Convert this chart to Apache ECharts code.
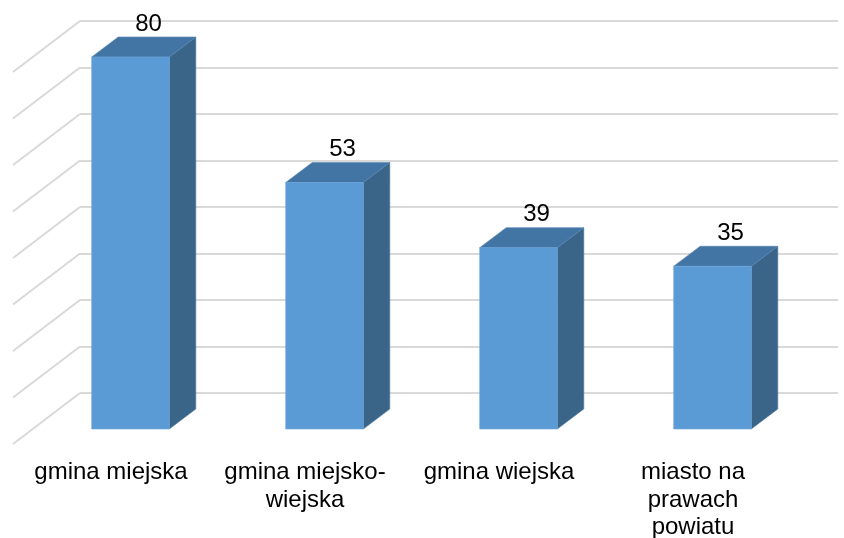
<!DOCTYPE html>
<html>
<head>
<meta charset="utf-8">
<script src="https://cdn.jsdelivr.net/npm/echarts@6/dist/echarts.min.js"></script>
<style>html,body{margin:0;padding:0;background:#fff}#c{width:844px;height:538px}</style>
</head>
<body>
<div id="c"></div>
<script>
const categories = ['gmina miejska', 'gmina miejsko-\nwiejska', 'gmina wiejska', 'miasto na\nprawach\npowiatu'];
const values = [80, 53, 39, 35];
const gridTicks = [0, 10, 20, 30, 40, 50, 60, 70, 80];

const FONT = '"Liberation Sans", Arial, sans-serif';
const DEPTH_X = 26.5, DEPTH_Y = -20;   // bar depth (pixels)
const WALL_X = -67, WALL_Y = 51;       // side wall diagonal (pixels)

const chart = echarts.init(document.getElementById('c'));
chart.setOption({
  animation: false,
  backgroundColor: '#fff',
  grid: [
    { left: 80, right: 6, top: 21, bottom: 145, outerBoundsMode: 'none' },
    { left: 33.5, right: 34.5, top: 57, bottom: 109, outerBoundsMode: 'none' },
    { left: 14, right: 54, top: 57, bottom: 95, outerBoundsMode: 'none' }
  ],
  xAxis: [
    { gridIndex: 0, type: 'value', min: 0, max: 1, show: false },
    { gridIndex: 1, type: 'category', data: categories, show: false },
    { gridIndex: 2, type: 'category', data: categories,
      axisLine: { show: false }, axisTick: { show: false }, splitLine: { show: false },
      axisLabel: { interval: 0, margin: 16, color: '#000', fontFamily: FONT, fontSize: 24, lineHeight: 27.5, align: 'center' } }
  ],
  yAxis: [
    { gridIndex: 0, type: 'value', min: 0, max: 80, interval: 10,
      axisLine: { show: false }, axisTick: { show: false }, axisLabel: { show: false },
      splitLine: { show: true, lineStyle: { color: '#d9d9d9', width: 2 } } },
    { gridIndex: 1, type: 'value', min: 0, max: 80, show: false, splitLine: { show: false } },
    { gridIndex: 2, type: 'value', min: 0, max: 80, show: false, splitLine: { show: false } }
  ],
  series: [
    {
      type: 'custom', xAxisIndex: 0, yAxisIndex: 0, z: 1, silent: true,
      data: gridTicks.map(t => [0, t]),
      renderItem: function (params, api) {
        const p = api.coord([0, api.value(1)]);
        return { type: 'line', shape: { x1: p[0], y1: p[1], x2: p[0] + WALL_X, y2: p[1] + WALL_Y },
                 style: { stroke: '#d9d9d9', lineWidth: 2 } };
      }
    },
    {
      type: 'custom', xAxisIndex: 1, yAxisIndex: 1, z: 5, silent: true,
      data: values.map((v, i) => [i, v]),
      renderItem: function (params, api) {
        const i = api.value(0), v = api.value(1);
        const top = api.coord([i, v]);
        const bot = api.coord([i, 0]);
        const w = api.size([1, 0])[0] * 0.4;
        const x0 = top[0] - w / 2, x1 = top[0] + w / 2;
        const yT = top[1], yB = bot[1];
        return {
          type: 'group',
          children: [
            { type: 'polygon', shape: { points: [[x1, yT], [x1 + DEPTH_X, yT + DEPTH_Y], [x1 + DEPTH_X, yB + DEPTH_Y], [x1, yB]] },
              style: { fill: '#3a6589', stroke: '#4f7aa0', lineWidth: 0.6 } },
            { type: 'polygon', shape: { points: [[x0, yT], [x0 + DEPTH_X, yT + DEPTH_Y], [x1 + DEPTH_X, yT + DEPTH_Y], [x1, yT]] },
              style: { fill: '#4375a4', stroke: '#5685b3', lineWidth: 0.6 } },
            { type: 'rect', shape: { x: x0, y: yT, width: w, height: yB - yT },
              style: { fill: '#5b9bd5', stroke: '#6aa6dc', lineWidth: 0.6 } },
            { type: 'text', style: { text: String(v), x: top[0] + 18, y: yT + DEPTH_Y - 1,
              align: 'center', verticalAlign: 'bottom', fill: '#000', fontSize: 24, fontFamily: FONT } }
          ]
        };
      }
    }
  ]
});
</script>
</body>
</html>
